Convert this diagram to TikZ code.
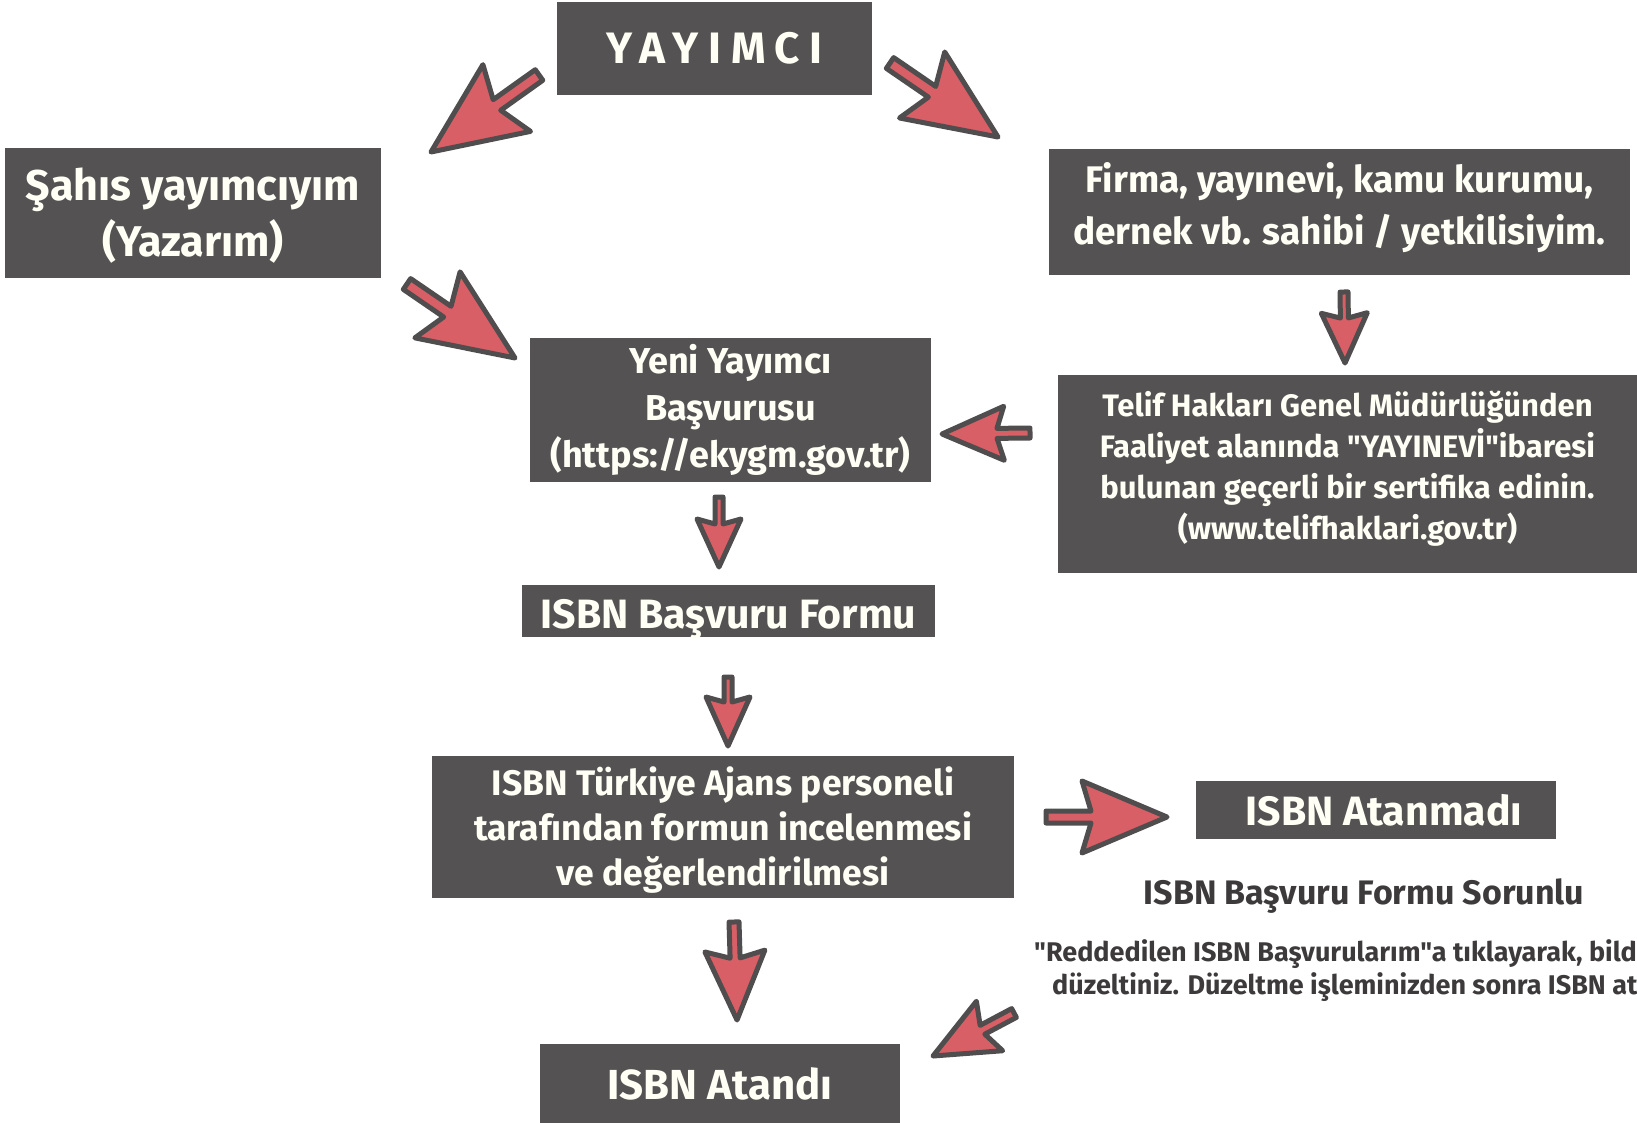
\documentclass[tikz,border=0pt]{standalone}
\usepackage{fontspec}
\setmainfont{Fira Sans}[Ligatures=TeXOff]
\usetikzlibrary{calc}
\definecolor{boxgray}{HTML}{555253}
\definecolor{boxtext}{HTML}{FFFFF5}
\definecolor{arrowfill}{HTML}{D95F66}
\definecolor{arrowline}{HTML}{504D4E}
\definecolor{darktext}{HTML}{3D3A3B}
\newcommand{\blockarrow}[6]{%
  \coordinate (bB) at ($(#2)!#5pt!(#1)$);
  \coordinate (bJ) at ($(#2)!#6pt!(#1)$);
  \draw[arrowshape] ($(#1)!#3pt!90:(#2)$) -- ($(bJ)!#3pt!90:(#2)$) -- ($(bB)!#4pt!90:(#2)$) -- (#2) -- ($(bB)!#4pt!-90:(#2)$) -- ($(bJ)!#3pt!-90:(#2)$) -- ($(#1)!#3pt!-90:(#2)$) -- cycle;}
\newcommand{\fs}[2]{\bfseries\fontsize{#1}{#2}\selectfont}
\tikzset{
  box/.style={fill=boxgray, inner sep=0pt},
  boxlabel/.style={text=boxtext, inner sep=0pt, align=center},
  arrowshape/.style={fill=arrowfill, draw=arrowline, line width=5pt, line join=round},
  plaintext/.style={text=darktext, inner sep=0pt}
}
\begin{document}
\begin{tikzpicture}[x=1pt,y=-1pt]
\path[use as bounding box] (0,0) rectangle (1637,1123);
% boxes
\node[box, minimum width=315pt, minimum height=93pt] (yay) at (714.5,48.5) {};
\node[boxlabel, font={\fs{44}{50}\addfontfeatures{LetterSpace=22}}] (yayt) at (yay.center) {YAYIMCI};

\node[box, minimum width=376pt, minimum height=130pt] (sahis) at (193,213) {};
\node[boxlabel, font=\fs{43}{56}] (sahist) at ([shift={(0,3)}]sahis.center) {Şahıs yayımcıyım\\(Yazarım)};

\node[box, minimum width=581pt, minimum height=126pt] (firma) at (1339.5,212) {};
\node[boxlabel, font=\fs{37}{52}] (firmat) at ([shift={(0,-4)}]firma.center) {Firma, yayınevi, kamu kurumu,\\dernek vb. sahibi / yetkilisiyim.};

\node[box, minimum width=401pt, minimum height=144pt] (yeni) at (730.5,410) {};
\node[boxlabel, font=\fs{36}{47}] (yenit) at (yeni.center) {Yeni Yayımcı\\Başvurusu\\(https://ekygm.gov.tr)};

\node[box, minimum width=579pt, minimum height=198pt] (telif) at (1347.5,474) {};
\node[boxlabel, font=\fs{31}{41}] (telift) at ([shift={(0,-5)}]telif.center) {Telif Hakları Genel Müdürlüğünden\\Faaliyet alanında "YAYINEVİ"ibaresi\\bulunan geçerli bir sertifika edinin.\\(www.telifhaklari.gov.tr)};

\node[box, minimum width=413pt, minimum height=52pt] (form) at (728.5,611) {};
\node[boxlabel, font=\fs{41}{44}] (formt) at ([shift={(0,8)}]form.center) {ISBN Başvuru Formu};

\node[box, minimum width=582pt, minimum height=142pt] (turkiye) at (723,827) {};
\node[boxlabel, font=\fs{35.5}{45}] (turkiyet) at ([shift={(0,3)}]turkiye.center) {ISBN Türkiye Ajans personeli\\tarafından formun incelenmesi\\ve değerlendirilmesi};

\node[box, minimum width=360pt, minimum height=58pt] (atanmadi) at (1376,810) {};
\node[boxlabel, font=\fs{41}{44}] (atanmadit) at ([shift={(8,0)}]atanmadi.center) {ISBN Atanmadı};

\node[box, minimum width=360pt, minimum height=79pt] (atandi) at (720,1083.5) {};
\node[boxlabel, font=\fs{42}{44}] (atandit) at (atandi.center) {ISBN Atandı};
% plain texts
\node[plaintext, font=\fs{34}{38}] (sorunlu) at (1364,896) {ISBN Başvuru Formu Sorunlu};
\node[plaintext, anchor=west, font=\fs{27}{30}] (redd1) at (1034,954) {"Reddedilen ISBN Başvurularım"a tıklayarak, bild};
\node[plaintext, anchor=west, font=\fs{27}{30}] (redd2) at (1052,987) {düzeltiniz. Düzeltme işleminizden sonra ISBN at};
% arrow end points
\coordinate (a1t) at (539,75);   \coordinate (a1p) at (431,152);
\coordinate (a2t) at (890,63);   \coordinate (a2p) at (998,137);
\coordinate (a3t) at (407,284);  \coordinate (a3p) at (515,358);
\coordinate (a4t) at (1344,292); \coordinate (a4p) at (1345,363);
\coordinate (a5t) at (1030,433); \coordinate (a5p) at (942,434);
\coordinate (a6t) at (719,497);  \coordinate (a6p) at (719,567);
\coordinate (a7t) at (728,677);  \coordinate (a7p) at (728,746);
\coordinate (a8t) at (1046,817); \coordinate (a8p) at (1167,817);
\coordinate (a9t) at (734,922);  \coordinate (a9p) at (737,1020);
\coordinate (a10t) at (1014,1013); \coordinate (a10p) at (933,1056);
\blockarrow{a1t}{a1p}{6.5}{41}{93}{81}
\blockarrow{a2t}{a2p}{6.5}{40}{92}{80}
\blockarrow{a3t}{a3p}{6.5}{40}{94}{82}
\blockarrow{a4t}{a4p}{4}{23}{50}{45}
\blockarrow{a5t}{a5p}{5}{27}{62}{55}
\blockarrow{a6t}{a6p}{4}{22}{48}{43}
\blockarrow{a7t}{a7p}{4}{22}{49}{44}
\blockarrow{a8t}{a8p}{6}{36}{85}{76}
\blockarrow{a9t}{a9p}{5}{30}{69}{62}
\blockarrow{a10t}{a10p}{5}{28}{64}{56}
\end{tikzpicture}
\end{document}
